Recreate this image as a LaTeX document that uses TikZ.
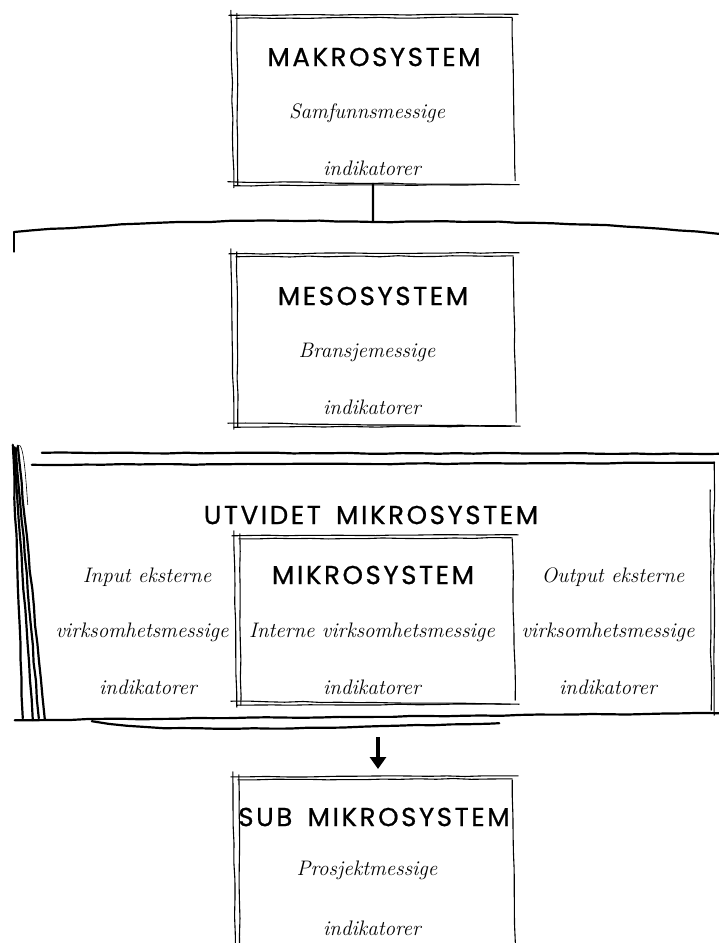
\documentclass[tikz,border=0pt]{standalone}
\usepackage{fontspec}
\newfontfamily\titlefont{Poppins}[LetterSpace=10, FakeBold=0.8, WordSpace=1.6]
\usetikzlibrary{decorations.pathmorphing,arrows.meta}

% hand-drawn double strokes round a box node
\newcommand\sketchbox[1]{%
  \draw[pen] ([shift={(-4,-1)}]#1.north west) -- ([shift={(5,-2)}]#1.north east);
  \draw[pen] ([shift={(3,2)}]#1.north west) -- ([shift={(-1,1)}]#1.north east);
  \draw[pen] ([shift={(-2,-6)}]#1.north west) -- ([shift={(1,4)}]#1.south west);
  \draw[pen] ([shift={(4,-3)}]#1.north west) -- ([shift={(5,2)}]#1.south west);
  \draw[pen] ([shift={(-1,2)}]#1.north east) -- ([shift={(2,-3)}]#1.south east);
  \draw[pen] ([shift={(-5,-2)}]#1.south west) -- ([shift={(6,1)}]#1.south east);
  \draw[pen] ([shift={(1,2)}]#1.south west) -- ([shift={(-3,1)}]#1.south east);
}

\begin{document}
\begin{tikzpicture}[x=1pt,y=-1pt,
  pen/.style={line width=1.1pt, line cap=round, decorate,
    decoration={random steps, segment length=18pt, amplitude=0.5pt}},
  heavy/.style={pen, line width=2.2pt},
  box/.style 2 args={draw=none, minimum width=#1pt, minimum height=#2pt, inner sep=0pt},
  title/.style={font=\titlefont\fontsize{26}{30}\selectfont, inner sep=0pt},
  hand/.style={font=\itshape\fontsize{21}{25}\selectfont, inner sep=0pt},
]
\pgfmathsetseed{7}
\useasboundingbox (0,0) rectangle (719,943);
\clip (0,0) rectangle (719,943);

% macro level
\node[box={280}{167}] (makro) at (373,100) {};
\sketchbox{makro}
\node[title] (makroT) at (374,57) {MAKROSYSTEM};
\node[hand] (makroA) at (367,113) {Samfunnsmessige};
\node[hand] (makroB) at (372,168) {indikatorer};

% bracket below the macro level
\coordinate (j) at (373,222);
\coordinate (tl) at (14,232);
\coordinate (tb) at (14,252);
\coordinate (tr) at (719,234);
\draw[heavy] (makro.south) -- (j);
\draw[heavy] (tl) .. controls (130,222) and (250,219) .. (j)
                  .. controls (500,220) and (620,224) .. (tr);
\draw[pen] (tl) -- (tb);

% meso level
\node[box={281}{170}] (meso) at (373.5,340) {};
\sketchbox{meso}
\node[title] (mesoT) at (373,296) {MESOSYSTEM};
\node[hand] (mesoA) at (367,352) {Bransjemessige};
\node[hand] (mesoB) at (372,407) {indikatorer};

% extended micro level
\node[box={692}{258}] (utv) at (368,589) {};
\draw[heavy] ([shift={(20,-7)}]utv.north west) -- ([shift={(5,-6)}]utv.north east);
\draw[heavy] ([shift={(10,5)}]utv.north west) -- ([shift={(0,3)}]utv.north east);
\draw[heavy] ([shift={(-7,2)}]utv.south west) -- ([shift={(5,-5)}]utv.south east);
\draw[heavy] ([shift={(70,3)}]utv.south west)
  .. controls ([shift={(140,15)}]utv.south west) and ([shift={(280,10)}]utv.south west)
  .. ([shift={(-215,5)}]utv.south east);
\draw[pen] ([shift={(0,2)}]utv.north east) -- ([shift={(0,-3)}]utv.south east);
\draw[pen] ([shift={(-4,30)}]utv.north east) -- ([shift={(-3,-8)}]utv.south east);
\draw[heavy] ([shift={(-9,-15)}]utv.north west) -- ([shift={(1,0)}]utv.south west);
\draw[heavy] ([shift={(-8,-13)}]utv.north west) -- ([shift={(11,2)}]utv.south west);
\draw[heavy] ([shift={(-6,-12)}]utv.north west) -- ([shift={(17,0)}]utv.south west);
\draw[heavy] ([shift={(-4,-14)}]utv.north west) -- ([shift={(23,1)}]utv.south west);
\draw[line width=0.6pt] ([shift={(-4,-14)}]utv.north west)
  .. controls ([shift={(2,-20)}]utv.north west) and ([shift={(4,20)}]utv.north west)
  .. ([shift={(6,45)}]utv.north west);
\node[title] (utvT) at (371,515) {UTVIDET MIKROSYSTEM};

\node[hand] (inA) at (147,577) {Input eksterne};
\node[hand] (inB) at (142,632) {virksomhetsmessige};
\node[hand] (inC) at (148,687) {indikatorer};

\node[hand] (outA) at (613,577) {Output eksterne};
\node[hand] (outB) at (608,632) {virksomhetsmessige};
\node[hand] (outC) at (608,687) {indikatorer};

% micro level
\node[box={277}{166}] (mikro) at (374.5,620) {};
\sketchbox{mikro}
\node[title] (mikroT) at (373,575) {MIKROSYSTEM};
\node[hand] (mikroA) at (372,632) {Interne virksomhetsmessige};
\node[hand] (mikroB) at (372,687) {indikatorer};

% arrow down to the sub level
\coordinate (a1) at (378,737);
\coordinate (a2) at (378,769);
\draw[line width=3.5pt, -{Triangle[length=12pt,width=16pt]}] (a1) -- (a2);

% sub micro level
\node[box={278}{182}] (sub) at (374,869) {};
\sketchbox{sub}
\node[title] (subT) at (374,817) {SUB MIKROSYSTEM};
\node[hand] (subA) at (367,870) {Prosjektmessige};
\node[hand] (subB) at (372,928) {indikatorer};
\end{tikzpicture}
\end{document}
